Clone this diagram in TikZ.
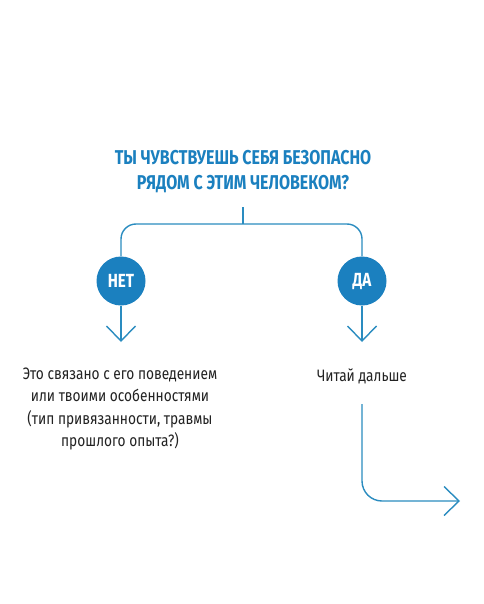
\documentclass[tikz,border=0pt]{standalone}
\usepackage{fontspec}
\usetikzlibrary{arrows.meta}
\newfontfamily\titlefont[FakeStretch=0.8]{Fira Sans}
\newfontfamily\bodyfont[FakeStretch=0.83]{Fira Sans}
\definecolor{tblue}{HTML}{1B80BF}
\definecolor{lblue}{HTML}{2A8CC0}
\definecolor{txt}{HTML}{222222}
\tikzset{
  conn/.style={draw=lblue, line width=1.4pt},
  chev/.style={conn, -{Straight Barb[length=15pt,width=29pt,line width=1.4pt]}},
  answer/.style={circle, fill=tblue, minimum size=49pt, inner sep=0pt, text=white, font=\titlefont\bfseries\fontsize{19}{22}\selectfont},
  body/.style={text=txt, align=center, font=\bodyfont\fontsize{16.5}{22.3}\selectfont},
}
\begin{document}
\begin{tikzpicture}[x=1pt,y=-1pt]
\useasboundingbox[fill=white] (0,0) rectangle (483,604);
\node[text=tblue, align=center, font=\titlefont\bfseries\fontsize{20}{25}\selectfont] (q) at (243,172) {ТЫ ЧУВСТВУЕШЬ СЕБЯ БЕЗОПАСНО\\РЯДОМ С ЭТИМ ЧЕЛОВЕКОМ?};
\coordinate (stem) at (243,207);
\coordinate (mid) at (243,224);
\node[answer] (no) at (121,281) {НЕТ};
\node[answer] (yes) at (362,281) {ДА};
\draw[conn] (stem) -- (mid);
\draw[conn, rounded corners=15pt] (no.north) -- (121,224) -- (362,224) -- (yes.north);
\coordinate (noend) at (121,342);
\coordinate (yesend) at (362,342);
\draw[chev] (no.south) -- (noend);
\draw[chev] (yes.south) -- (yesend);
\node[body] (notext) at (120,409) {Это связано с его поведением\\или твоими особенностями\\(тип привязанности, травмы\\прошлого опыта?)};
\node[body] (yestext) at (362,376) {Читай дальше};
\coordinate (a1) at (362,404);
\coordinate (a2) at (460,501);
\draw[chev, rounded corners=20pt] (a1) -- (362,501) -- (a2);
\end{tikzpicture}
\end{document}
